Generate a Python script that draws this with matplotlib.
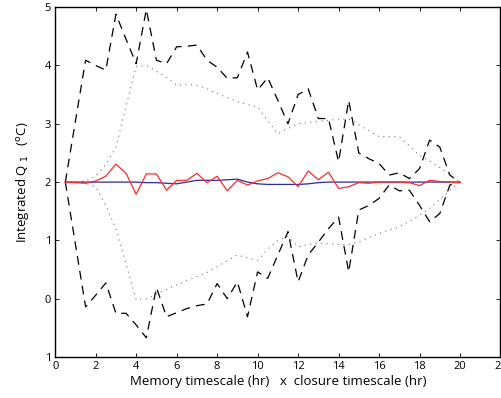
import numpy as np
import matplotlib
matplotlib.use("Agg")
import matplotlib.pyplot as plt

x = [0.5, 1.0, 1.5, 2.0, 2.5, 3.0, 3.5, 4.0, 4.5, 5.0, 5.5, 6.0, 6.5, 7.0, 7.5, 8.0,
     8.5, 9.0, 9.5, 10.0, 10.5, 11.0, 11.5, 12.0, 12.5, 13.0, 13.5, 14.0, 14.5, 15.0,
     15.5, 16.0, 16.5, 17.0, 17.5, 18.0, 18.5, 19.0, 19.5, 20.0]

upper_dashed = [2.0, 3.05, 4.09, 4.0, 3.92, 4.88, 4.45, 4.03, 4.96, 4.09, 4.03, 4.32, 4.33, 4.35,
                4.09, 3.97, 3.78, 3.79, 4.23, 3.58, 3.79, 3.4, 3.0, 3.5, 3.6, 3.09, 3.09, 2.35,
                3.4, 2.5, 2.4, 2.32, 2.12, 2.16, 2.06, 2.23, 2.72, 2.6, 2.12, 1.99]
lower_dashed = [2.0, 0.93, -0.14, 0.06, 0.27, -0.25, -0.25, -0.45, -0.67, 0.19, -0.31, -0.24,
                -0.17, -0.12, -0.09, 0.26, 0.0, 0.29, -0.31, 0.46, 0.35, 0.75, 1.15, 0.29, 0.75,
                0.97, 1.2, 1.40, 0.46, 1.52, 1.6, 1.72, 1.95, 1.85, 1.86, 1.6, 1.32, 1.46, 1.95, 2.0]
upper_dotted = [2.0, 2.0, 2.02, 2.1, 2.3, 2.6, 3.3, 3.98, 4.0, 3.9, 3.8, 3.66, 3.68, 3.66, 3.6,
                3.52, 3.45, 3.38, 3.33, 3.29, 3.05, 2.83, 2.92, 3.0, 3.02, 3.04, 3.06, 3.08, 3.08,
                2.98, 2.88, 2.78, 2.78, 2.78, 2.62, 2.46, 2.36, 2.25, 2.12, 2.0]
lower_dotted = [2.0, 2.0, 1.98, 1.92, 1.6, 1.2, 0.6, -0.02, 0.0, 0.08, 0.16, 0.24, 0.31, 0.38,
                0.45, 0.55, 0.65, 0.75, 0.7, 0.66, 0.85, 1.0, 1.07, 0.89, 0.93, 0.95, 0.94, 0.93,
                0.93, 0.97, 1.05, 1.12, 1.18, 1.23, 1.33, 1.43, 1.55, 1.7, 1.86, 2.0]
red_series = [2.0, 1.99, 1.98, 2.02, 2.1, 2.31, 2.15, 1.79, 2.14, 2.14, 1.86, 2.03, 2.03, 2.15,
              1.99, 2.1, 1.85, 2.03, 1.95, 2.02, 2.06, 2.16, 2.09, 1.92, 2.19, 2.04, 2.17, 1.89,
              1.92, 1.99, 1.98, 2.0, 2.0, 2.0, 1.99, 1.94, 2.03, 2.01, 2.0, 1.99]
blue_series = [2.0, 2.0, 2.0, 2.0, 2.0, 2.0, 2.0, 2.0, 1.99, 1.99, 1.98, 1.97, 2.0, 2.03, 2.03,
               2.03, 2.04, 2.05, 2.0, 1.97, 1.96, 1.96, 1.96, 1.96, 1.97, 1.99, 2.0, 2.0, 2.0,
               2.0, 2.0, 2.0, 2.0, 2.0, 2.0, 2.0, 2.0, 2.0, 2.0, 2.0]

xticks = [0, 2, 4, 6, 8, 10, 12, 14, 16, 18, 20, 22]
yticks = [-1, 0, 1, 2, 3, 4, 5]
ytick_labels = ['1', '0', '1', '2', '3', '4', '5']

plt.rcParams['font.family'] = ['Open Sans', 'DejaVu Sans']
fig = plt.figure(figsize=(5.02, 3.98), dpi=100)
ax = fig.add_axes([0.110, 0.103, 0.887, 0.879])

ax.plot(x, upper_dashed, color='black', lw=0.9, dashes=(7, 5))
ax.plot(x, lower_dashed, color='black', lw=0.9, dashes=(7, 5))
ax.plot(x, upper_dotted, color='#777777', lw=0.8, dashes=(1, 4))
ax.plot(x, lower_dotted, color='#777777', lw=0.8, dashes=(1, 4))
ax.plot(x, blue_series, color='#2a2aa0', lw=0.9)
ax.plot(x, red_series, color='#ff2a2a', lw=0.9)

ax.set_xlim(0, 22)
ax.set_ylim(-1, 5)
ax.set_xticks(xticks)
ax.set_yticks(yticks)
ax.set_yticklabels(ytick_labels)
ax.tick_params(direction='in', top=True, right=True, labelsize=8, length=3, width=0.6, pad=3)
for s in ax.spines.values():
    s.set_linewidth(1.0)

ax.set_xlabel('Memory timescale (hr)   x  closure timescale (hr)', fontsize=9.5, labelpad=2)
ax.set_ylabel('Integrated Q$_{\\ 1}$   ($^{\\rm o}$C)', fontsize=9.5, labelpad=10)

fig.savefig('out.png', dpi=100)
